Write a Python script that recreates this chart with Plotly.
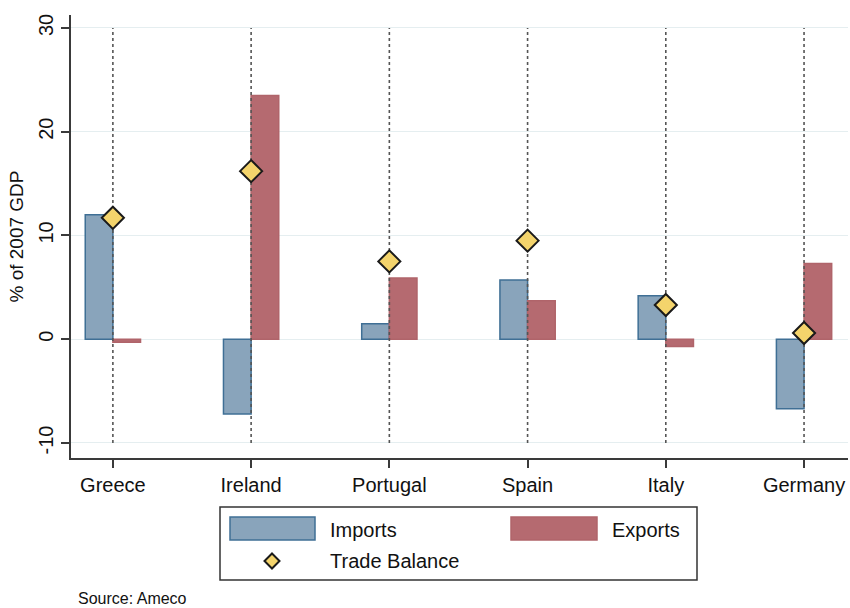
import plotly.graph_objects as go

# Change in trade flows, % of 2007 GDP
countries = ["Greece", "Ireland", "Portugal", "Spain", "Italy", "Germany"]
imports = [12.0, -7.2, 1.5, 5.7, 4.2, -6.7]
exports = [-0.3, 23.5, 5.9, 3.7, -0.7, 7.3]
trade_balance = [11.7, 16.2, 7.5, 9.5, 3.3, 0.6]
y_ticks = [-10, 0, 10, 20, 30]
y_tick_labels = [str(v) for v in y_ticks]

FONT = "Liberation Sans, Arial, Helvetica, sans-serif"
IMP_FILL, IMP_LINE = "#89a4bb", "#3f6f95"
EXP_FILL, EXP_LINE = "#b56a70", "#b0646a"
TB_FILL = "#f4d46c"

W, H = 850, 608
ML, MR, MT, MB = 71, 2, 15, 150
PW, PH = W - ML - MR, H - MT - MB


def px(x):
    return (x - ML) / PW


def py(y):
    return (H - MB - y) / PH


fig = go.Figure()

fig.add_bar(x=countries, y=imports, name="Imports",
            marker=dict(color=IMP_FILL, line=dict(color=IMP_LINE, width=1.5)))
fig.add_bar(x=countries, y=exports, name="Exports",
            marker=dict(color=EXP_FILL, line=dict(color=EXP_LINE, width=1.5)))

# dotted guide line through each country, spanning the labelled y range
gx, gy = [], []
for c in countries:
    gx += [c, c, None]
    gy += [min(y_ticks), max(y_ticks), None]
fig.add_scatter(x=gx, y=gy, mode="lines", hoverinfo="skip", showlegend=False,
                line=dict(color="#555555", width=1.6, dash="dot"))

fig.add_scatter(x=countries, y=trade_balance, mode="markers", name="Trade Balance",
                marker=dict(symbol="diamond", size=17, color=TB_FILL,
                            line=dict(color="#1a1a1a", width=2)))

fig.update_layout(
    width=W, height=H,
    margin=dict(l=ML, r=MR, t=MT, b=MB),
    paper_bgcolor="white", plot_bgcolor="white",
    barmode="group", bargap=0.6, bargroupgap=0,
    showlegend=False,
    font=dict(family=FONT, size=20, color="#111111"),
)

fig.update_xaxes(
    type="category", range=[-0.303, 5.318],
    showgrid=False, zeroline=False,
    showline=True, linecolor="#3a3a3a", linewidth=2,
    ticks="outside", ticklen=8, tickwidth=2, tickcolor="#3a3a3a",
    tickfont=dict(size=20),
)
fig.update_yaxes(
    range=[-11.45, 31.25], tickvals=y_ticks, ticktext=y_tick_labels,
    tickangle=-90,
    showgrid=True, gridcolor="#e5eef0", gridwidth=1, zeroline=False,
    showline=True, linecolor="#3a3a3a", linewidth=2,
    ticks="outside", ticklen=8, tickwidth=2, tickcolor="#3a3a3a",
    tickfont=dict(size=20),
    title=dict(text="% of 2007 GDP", font=dict(size=19), standoff=6),
)

# legend panel below the plot
shapes = [
    dict(type="rect", xref="paper", yref="paper",
         x0=px(220), x1=px(697), y0=py(580), y1=py(507),
         line=dict(color="#333333", width=1.5), fillcolor="white"),
    dict(type="rect", xref="paper", yref="paper",
         x0=px(230), x1=px(315), y0=py(540), y1=py(517),
         line=dict(color=IMP_LINE, width=1.5), fillcolor=IMP_FILL),
    dict(type="rect", xref="paper", yref="paper",
         x0=px(511), x1=px(597), y0=py(540), y1=py(517),
         line=dict(color=EXP_LINE, width=1.5), fillcolor=EXP_FILL),
]
cx, cy, r = 272, 561, 7.5
shapes.append(dict(
    type="path", xref="paper", yref="paper",
    path=(f"M {px(cx)} {py(cy - r)} L {px(cx + r)} {py(cy)} "
          f"L {px(cx)} {py(cy + r)} L {px(cx - r)} {py(cy)} Z"),
    line=dict(color="#1a1a1a", width=2), fillcolor=TB_FILL))
fig.update_layout(shapes=shapes)

annotations = [
    dict(text="Imports", x=px(328), y=py(530)),
    dict(text="Exports", x=px(610), y=py(530)),
    dict(text="Trade Balance", x=px(328), y=py(561)),
]
for a in annotations:
    a.update(xref="paper", yref="paper", xanchor="left", yanchor="middle",
             showarrow=False, font=dict(size=20))
annotations.append(dict(text="Source: Ameco", xref="paper", yref="paper",
                        x=px(76), y=py(598), xanchor="left", yanchor="middle",
                        showarrow=False, font=dict(size=16)))
fig.update_layout(annotations=annotations)

fig.write_html("out.html")
